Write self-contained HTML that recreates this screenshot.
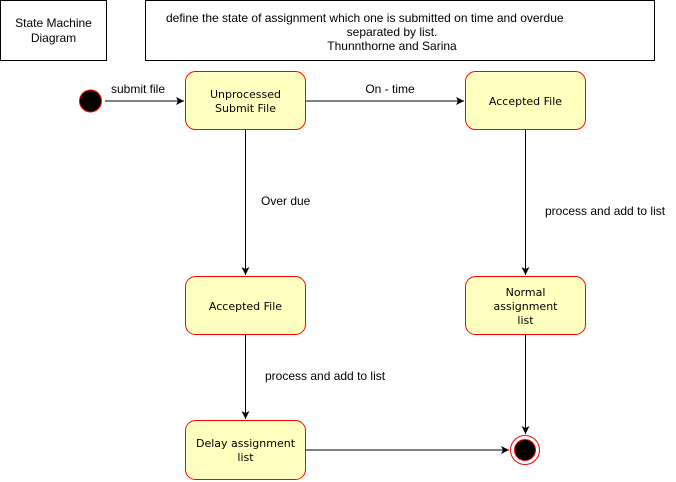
<!DOCTYPE html>
<html><head><style>body{margin:0;background:#fff}svg{display:block}text{font-family:"Liberation Sans",Helvetica,sans-serif;font-size:12px;fill:#000}.s{font-family:"DejaVu Sans",sans-serif;font-size:11px}</style></head>
<body>
<svg width="676" height="482" viewBox="0 0 676 482">
<defs><marker id="a" markerWidth="10" markerHeight="10" refX="9" refY="5" orient="auto" markerUnits="userSpaceOnUse"><path d="M1,1 L9,5 L1,9 L3,5 Z" fill="#000"/></marker></defs>
<rect x="0.5" y="0.5" width="106" height="60" fill="#fff" stroke="#000"/>
<text x="53.5" y="27" text-anchor="middle">State Machine</text>
<text x="53.5" y="42" text-anchor="middle">Diagram</text>
<rect x="145.5" y="0.5" width="509" height="60" fill="#fff" stroke="#000"/>
<text x="166" y="22">define the state of assignment which one is submitted on time and overdue</text>
<text x="392" y="36" text-anchor="middle">separated  by list.</text>
<text x="392" y="50" text-anchor="middle">Thunnthorne and Sarina</text>
<circle cx="90.5" cy="101" r="11" fill="#000" stroke="#f00"/>
<g fill="#ffffc0" stroke="#f00">
<rect x="185.5" y="71.5" width="120" height="58" rx="10"/>
<rect x="465.5" y="71.5" width="120" height="58" rx="10"/>
<rect x="185.5" y="276.5" width="120" height="58" rx="10"/>
<rect x="465.5" y="276.5" width="120" height="58" rx="10"/>
<rect x="185.5" y="420.5" width="120" height="59" rx="10"/>
</g>
<circle cx="525" cy="450" r="14.5" fill="#fff" stroke="#f00"/>
<circle cx="525" cy="450" r="10.5" fill="#000" stroke="#f00"/>
<g stroke="#000" fill="none" marker-end="url(#a)">
<line x1="105" y1="101" x2="184" y2="101"/>
<line x1="306" y1="101" x2="464" y2="101"/>
<line x1="245.5" y1="130" x2="245.5" y2="275"/>
<line x1="525.5" y1="130" x2="525.5" y2="275"/>
<line x1="245.5" y1="335" x2="245.5" y2="419"/>
<line x1="525.5" y1="335" x2="525.5" y2="434"/>
<line x1="306" y1="450" x2="509" y2="450"/>
</g>
<text x="111" y="93">submit file</text>
<text x="390" y="93" text-anchor="middle">On - time</text>
<text x="261" y="205">Over due</text>
<text x="545" y="215">process and add to list</text>
<text x="265" y="380">process and add to list</text>
<g class="s">
<text class="s" x="245.5" y="98" text-anchor="middle">Unprocessed</text>
<text class="s" x="245.5" y="112" text-anchor="middle">Submit File</text>
<text class="s" x="525.5" y="105" text-anchor="middle">Accepted File</text>
<text class="s" x="245.5" y="310" text-anchor="middle">Accepted File</text>
<text class="s" x="525.5" y="296" text-anchor="middle">Normal</text>
<text class="s" x="525.5" y="310" text-anchor="middle">assignment</text>
<text class="s" x="525.5" y="324" text-anchor="middle">list</text>
<text class="s" x="245.5" y="447" text-anchor="middle">Delay assignment</text>
<text class="s" x="245.5" y="461" text-anchor="middle">list</text>
</g>
</svg>
</body></html>
